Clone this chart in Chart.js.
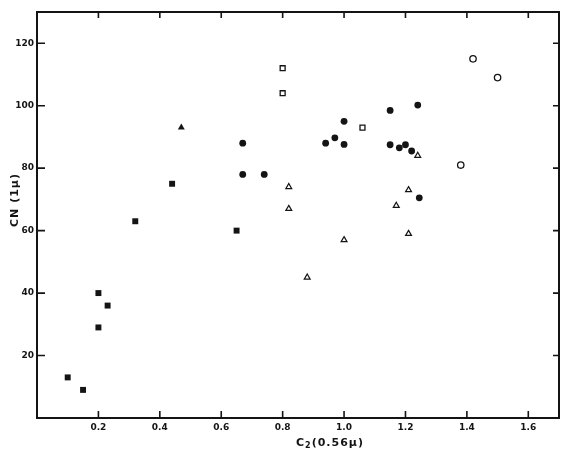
<!DOCTYPE html>
<html>
<head>
<meta charset="utf-8">
<script src="https://cdn.jsdelivr.net/npm/chart.js@4/dist/chart.umd.min.js"></script>
<style>
  html, body { margin: 0; padding: 0; background: #ffffff; }
  #wrap { width: 570px; height: 462px; }
</style>
</head>
<body>
<div id="wrap"><canvas id="c" width="570" height="462"></canvas></div>
<script>
// ---- data ----
const filledSquaresX = [0.10, 0.15, 0.20, 0.23, 0.20, 0.32, 0.44, 0.65];
const filledSquaresY = [13, 9, 40, 36, 29, 63, 75, 60];

const filledTriangleX = [0.47];
const filledTriangleY = [93];

const openSquaresX = [0.80, 0.80, 1.06];
const openSquaresY = [112, 104, 93];

const openCirclesX = [1.42, 1.50, 1.38];
const openCirclesY = [115, 109, 81];

const filledCirclesX = [0.67, 0.67, 0.74, 1.00, 0.94, 0.97, 1.00, 1.15, 1.24, 1.15, 1.18, 1.20, 1.22, 1.245];
const filledCirclesY = [88, 78, 78, 95, 88, 89.7, 87.6, 98.5, 100.2, 87.5, 86.5, 87.5, 85.5, 70.5];

const openTrianglesX = [1.24, 0.82, 0.82, 1.21, 1.17, 1.21, 1.00, 0.88];
const openTrianglesY = [84, 74, 67, 73, 68, 59, 57, 45];

const xTickValues = [0.2, 0.4, 0.6, 0.8, 1.0, 1.2, 1.4, 1.6];
const yTickValues = [20, 40, 60, 80, 100, 120];

const xAxisTitleMain = 'C';
const xAxisTitleSub = '2';
const xAxisTitleRest = '(0.56\u03bc)';
const yAxisTitle = 'CN (1\u03bc)';

function pts(xs, ys) { return xs.map((x, i) => ({ x: x, y: ys[i] })); }

const INK = '#141414';
const FONT = 'DejaVu Sans';

const framePlugin = {
  id: 'frame',
  afterDraw(chart) {
    const ctx = chart.ctx;
    const a = chart.chartArea;
    const sx = chart.scales.x, sy = chart.scales.y;
    ctx.save();
    ctx.strokeStyle = INK;
    ctx.lineWidth = 2;
    ctx.strokeRect(a.left, a.top, a.right - a.left, a.bottom - a.top);
    ctx.lineWidth = 1.6;
    ctx.beginPath();
    xTickValues.forEach(v => {
      const px = sx.getPixelForValue(v);
      ctx.moveTo(px, a.bottom); ctx.lineTo(px, a.bottom - 7);
      ctx.moveTo(px, a.top); ctx.lineTo(px, a.top + 6);
    });
    yTickValues.forEach(v => {
      const py = sy.getPixelForValue(v);
      ctx.moveTo(a.left, py); ctx.lineTo(a.left + 8, py);
      ctx.moveTo(a.right, py); ctx.lineTo(a.right - 6, py);
    });
    ctx.stroke();

    // axis titles
    ctx.fillStyle = INK;
    ctx.textBaseline = 'middle';
    ctx.font = 'bold 11px "' + FONT + '"';
    try { ctx.letterSpacing = '1px'; } catch (e) {}
    const cx = a.left + 293;
    const cy = a.bottom + 25;
    const w1 = ctx.measureText(xAxisTitleMain).width;
    ctx.font = 'bold 8px "' + FONT + '"';
    const w2 = ctx.measureText(xAxisTitleSub).width;
    ctx.font = 'bold 11px "' + FONT + '"';
    const w3 = ctx.measureText(xAxisTitleRest).width;
    let startX = cx - (w1 + w2 + w3) / 2;
    ctx.textAlign = 'left';
    ctx.fillText(xAxisTitleMain, startX, cy);
    ctx.font = 'bold 8px "' + FONT + '"';
    ctx.fillText(xAxisTitleSub, startX + w1, cy + 3);
    ctx.font = 'bold 11px "' + FONT + '"';
    ctx.fillText(xAxisTitleRest, startX + w1 + w2, cy);
    ctx.save();
    ctx.translate(15, a.top + 188);
    ctx.rotate(-Math.PI / 2);
    ctx.textAlign = 'center';
    ctx.fillText(yAxisTitle, 0, 0);
    ctx.restore();
    ctx.restore();
  }
};

new Chart(document.getElementById('c'), {
  type: 'scatter',
  data: {
    datasets: [
      { label: 'filled squares', data: pts(filledSquaresX, filledSquaresY), pointStyle: 'rect', radius: 4.2, backgroundColor: INK, borderColor: INK, borderWidth: 0 },
      { label: 'filled triangle', data: pts(filledTriangleX, filledTriangleY), pointStyle: 'triangle', radius: 4.0, backgroundColor: INK, borderColor: INK, borderWidth: 0 },
      { label: 'open squares', data: pts(openSquaresX, openSquaresY), pointStyle: 'rect', radius: 3.5, backgroundColor: '#ffffff', borderColor: INK, borderWidth: 1.3 },
      { label: 'open circles', data: pts(openCirclesX, openCirclesY), pointStyle: 'circle', radius: 3.2, backgroundColor: '#ffffff', borderColor: INK, borderWidth: 1.3 },
      { label: 'filled circles', data: pts(filledCirclesX, filledCirclesY), pointStyle: 'circle', radius: 3.4, backgroundColor: INK, borderColor: INK, borderWidth: 0 },
      { label: 'open triangles', data: pts(openTrianglesX, openTrianglesY), pointStyle: 'triangle', radius: 3.4, backgroundColor: '#ffffff', borderColor: INK, borderWidth: 1.2 }
    ]
  },
  options: {
    responsive: false,
    animation: false,
    events: [],
    layout: { padding: { top: 12, right: 11, left: 0, bottom: 0 } },
    plugins: { legend: { display: false }, tooltip: { enabled: false } },
    scales: {
      x: {
        type: 'linear', min: 0, max: 1.7,
        afterBuildTicks(scale) { scale.ticks = xTickValues.map(v => ({ value: v })); },
        afterFit(scale) { scale.height = 44; },
        grid: { display: false, drawTicks: false },
        border: { display: false },
        ticks: {
          color: INK, padding: 4, maxRotation: 0, autoSkip: false,
          font: { family: FONT, size: 9, weight: 'bold' },
          callback: v => Number(v).toFixed(1)
        }
      },
      y: {
        type: 'linear', min: 0, max: 130,
        afterBuildTicks(scale) { scale.ticks = yTickValues.map(v => ({ value: v })); },
        afterFit(scale) { scale.width = 37; },
        grid: { display: false, drawTicks: false },
        border: { display: false },
        ticks: {
          color: INK, padding: 3, autoSkip: false,
          font: { family: FONT, size: 9, weight: 'bold' },
          callback: v => String(v)
        }
      }
    }
  },
  plugins: [framePlugin]
});
</script>
</body>
</html>
